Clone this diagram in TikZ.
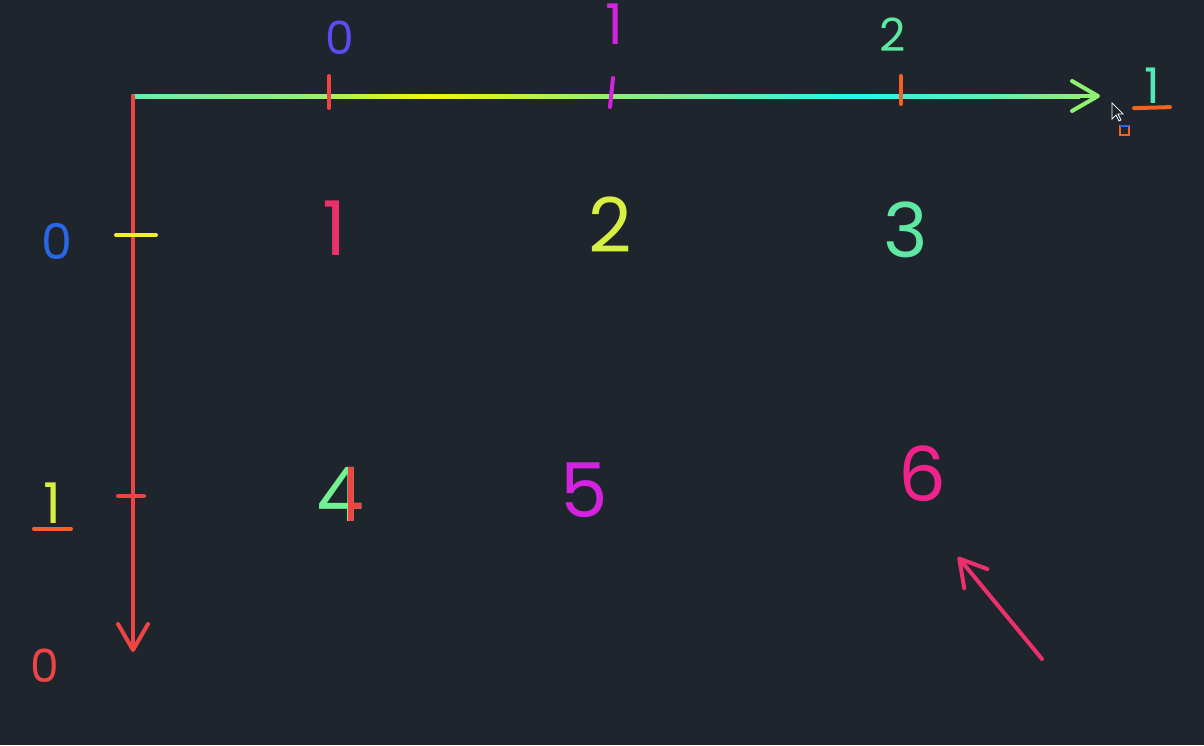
\documentclass[tikz,border=0pt]{standalone}
\usepackage{fontspec}
\setmainfont{Poppins}
\usetikzlibrary{arrows.meta,calc}
\definecolor{board}{HTML}{1F252C}
\definecolor{axred}{HTML}{EF4444}
\definecolor{axgreen}{HTML}{90F070}
\definecolor{axmint}{HTML}{60F0B0}
\definecolor{axyellow}{HTML}{F2F21E}
\definecolor{axcyan}{HTML}{30F0F0}
\definecolor{inkblue}{HTML}{2A66E8}
\definecolor{inkviolet}{HTML}{5A4CF0}
\definecolor{inkmag}{HTML}{D423E0}
\definecolor{inkorange}{HTML}{F26222}
\definecolor{inkmint}{HTML}{5EE8A4}
\definecolor{inkteal}{HTML}{50E8B4}
\definecolor{inkyellow}{HTML}{D8F040}
\definecolor{inkpink}{HTML}{EC306C}
\definecolor{inkrose}{HTML}{F0228C}
\definecolor{inkgreen}{HTML}{72F092}
\begin{document}
\begin{tikzpicture}[x=0.02cm,y=-0.02cm,
  every node/.style={inner sep=0pt,font=\fontsize{43}{43}\selectfont},
  pen/.style={line width=0.08cm,line cap=round,line join=round},
  barb/.style={-{Straight Barb[length=0.52cm,width=0.6cm,round]}},
  small/.style={font=\fontsize{26}{26}\selectfont}]
% board
\fill[board] (0,0) rectangle (1204,745);
\useasboundingbox (0,0) rectangle (1204,745);
% axes
\coordinate (origin) at (133,96);
\coordinate (xend) at (1100,96);
\coordinate (yend) at (133,652);
\draw[pen,axgreen,barb] (origin) -- (xend);
% colour run along the top axis
\foreach \xa/\xb/\ca/\cb in {133/300/axmint/axgreen,300/430/axgreen/axyellow,
  430/612/axyellow/axgreen,612/850/axgreen/axcyan,850/1000/axcyan/axmint,1000/1080/axmint/axgreen}
  \shade[left color=\ca,right color=\cb] (\xa,94) rectangle (\xb,98);
\draw[pen,axred,barb] (origin) -- (yend);
% ticks
\draw[pen,axred] (329,76) -- (329,108);
\draw[pen,inkmag] (613,78) -- (610,107);
\draw[pen,inkorange] (901,76) -- (901,104);
\draw[pen,axyellow] (116,235) -- (156,235);
\draw[pen,axred] (118,496) -- (144,496);
% axis labels
\node[small,text=inkviolet] (lx0) at (340,38) {0};
\node[font=\fontsize{32}{32}\selectfont,text=inkmag] (lx1) at (614,24) {1};
\node[small,text=inkmint] (lx2) at (893,35) {2};
\node[font=\fontsize{28}{28}\selectfont,text=inkteal] (xone) at (1152,86) {1};
\draw[pen,inkorange] ($(xone.south)+(-18,4)$) -- ($(xone.south)+(18,3)$);
\node[font=\fontsize{28}{28}\selectfont,text=inkblue] (ly0) at (57,241) {0};
\node[font=\fontsize{32}{32}\selectfont,text=inkyellow] (ly1) at (52,503) {1};
\draw[pen,inkorange] ($(ly1.south)+(-18,5)$) -- ($(ly1.south)+(19,5)$);
\node[small,text=axred] (yzero) at (45,666) {0};
% cursor
\filldraw[fill=board,draw=white,line width=0.4pt] (1112,103) -- (1112,119) -- (1116,115)
  -- (1119,121) -- (1121,120) -- (1118,114) -- (1123,114) -- cycle;
\draw[inkorange,line width=0.6pt] (1120,126) rectangle (1129,135);
\draw[inkblue,line width=0.8pt] (1120,126) -- (1129,126);
% cells
\node[text=inkpink] (c1) at (335,228) {1};
\node[text=inkyellow] (c2) at (610,225) {2};
\node[text=inkmint] (c3) at (906,230) {3};
\node[text=inkgreen] (c4) at (340,494) {4};
\begin{scope}
\clip (348,440) rectangle (390,545);
\node[text=axred] at (340,494) {4};
\end{scope}
\node[text=inkmag] (c5) at (584,490) {5};
\node[text=inkrose] (c6) at (922,474) {6};
% pointer
\coordinate (ptail) at (1042,659);
\coordinate (phead) at (958,557);
\draw[pen,inkpink,barb] (ptail) -- (phead);
\end{tikzpicture}
\end{document}
